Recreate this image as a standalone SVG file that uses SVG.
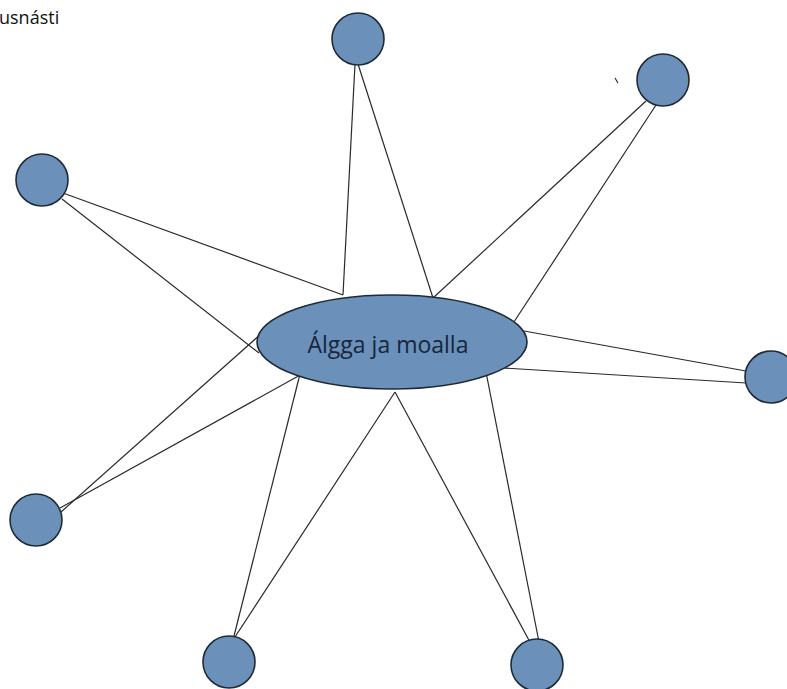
<svg xmlns="http://www.w3.org/2000/svg" width="787" height="689" viewBox="0 0 787 689">
<style>
.n{fill:#6b90ba;stroke:#1f2a36;stroke-width:1.6}
.c line{stroke:#2a2a2a;stroke-width:1.2}
text{font-family:"Open Sans","Liberation Sans",sans-serif}
</style>
<rect width="787" height="689" fill="#fff"/>
<text x="-1" y="24" font-size="18" fill="#111">usnásti</text>
<g class="c">
<line x1="355" y1="64" x2="343" y2="295"/>
<line x1="358" y1="64" x2="433" y2="298"/>
<line x1="646" y1="101" x2="433" y2="298"/>
<line x1="656" y1="105" x2="510" y2="328"/>
<line x1="63" y1="193" x2="343" y2="295"/>
<line x1="62" y1="199" x2="259" y2="353"/>
<line x1="746" y1="371" x2="513" y2="329"/>
<line x1="746" y1="383" x2="488" y2="367"/>
<line x1="61" y1="512" x2="262" y2="333"/>
<line x1="60" y1="508" x2="302" y2="374"/>
<line x1="233" y1="640" x2="300" y2="374"/>
<line x1="233" y1="640" x2="395" y2="392"/>
<line x1="531" y1="644" x2="395" y2="392"/>
<line x1="539" y1="642" x2="485" y2="367"/>
<line x1="615" y1="78" x2="618" y2="83"/>
</g>
<g id="center">
<ellipse class="n" cx="392" cy="342" rx="135" ry="47"/>
<text x="388" y="353" font-size="23" fill="#17263a" text-anchor="middle">Álgga ja moalla</text>
</g>
<g id="n1"><circle class="n" cx="358" cy="39" r="26"/></g>
<g id="n2"><circle class="n" cx="663" cy="80" r="26"/></g>
<g id="n3"><circle class="n" cx="42" cy="180" r="26"/></g>
<g id="n4"><circle class="n" cx="771" cy="377" r="26"/></g>
<g id="n5"><circle class="n" cx="36" cy="520" r="26"/></g>
<g id="n6"><circle class="n" cx="229" cy="662" r="26"/></g>
<g id="n7"><circle class="n" cx="537" cy="665" r="26"/></g>
</svg>
